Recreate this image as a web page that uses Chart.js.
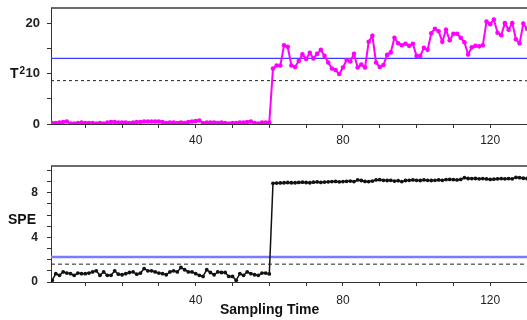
<!DOCTYPE html>
<html>
<head>
<meta charset="utf-8">
<script src="https://cdn.jsdelivr.net/npm/chart.js@4.4.1/dist/chart.umd.min.js"></script>
<style>
  html, body { margin: 0; padding: 0; background: #fff; }
  body { width: 527px; height: 320px; position: relative; overflow: hidden; font-family: "Liberation Sans", Arial, sans-serif; }
  canvas { position: absolute; left: 0; }
  .lbl { position: absolute; font-weight: bold; font-size: 14px; line-height: 14px; color: #111; white-space: nowrap; }
  .lbl sup { font-size: 10px; position: relative; top: -2px; vertical-align: top; margin-left: 1px; }
</style>
</head>
<body>
<canvas id="top" width="527" height="150" style="top:0"></canvas>
<canvas id="bot" width="527" height="170" style="top:150px"></canvas>
<div class="lbl" style="left:10px; top:66px;">T<sup>2</sup></div>
<div class="lbl" style="left:8px; top:212px;">SPE</div>
<div class="lbl" style="left:220px; top:302px;">Sampling Time</div>
<script>
// ---- data ----
const sampleCount = 130;
const samples = Array.from({length: sampleCount}, (_, i) => i + 1);

const t2Values = [
  0.2, 0.2, 0.3, 0.4, 0.5, 0.1, 0.1, 0.2, 0.3, 0.2,
  0.2, 0.2, 0.1, 0.2, 0.1, 0.3, 0.4, 0.4, 0.3, 0.3,
  0.3, 0.2, 0.3, 0.4, 0.4, 0.5, 0.5, 0.5, 0.5, 0.5,
  0.4, 0.2, 0.3, 0.3, 0.2, 0.3, 0.2, 0.4, 0.5, 0.6,
  0.7, 0.2, 0.3, 0.3, 0.3, 0.2, 0.3, 0.2, 0.1, 0.2,
  0.2, 0.3, 0.3, 0.4, 0.5, 0.2, 0.1, 0.3, 0.3, 0.3,
  11.0, 11.6, 11.6, 15.6, 15.3, 11.6, 11.3, 12.5, 13.8, 12.9,
  14.1, 13.0, 13.9, 14.7, 13.5, 12.2, 11.0, 10.7, 9.9, 11.2,
  12.7, 12.4, 13.9, 11.2, 11.8, 11.2, 16.3, 17.5, 12.2, 11.3,
  11.7, 13.7, 14.2, 17.1, 16.0, 15.6, 15.9, 15.5, 15.9, 13.5,
  13.5, 15.1, 14.7, 18.0, 18.9, 18.4, 16.3, 18.7, 16.6, 17.9,
  17.9, 17.1, 16.2, 13.8, 15.2, 15.5, 15.4, 15.6, 20.3, 19.8,
  20.7, 18.1, 17.6, 20.0, 18.7, 20.0, 16.8, 16.0, 19.9, 18.9
];

const speValues = [
  0.15, 0.75, 0.6, 0.9, 0.8, 0.75, 0.6, 0.8, 0.75, 0.75,
  0.8, 0.9, 1.0, 0.6, 0.9, 0.6, 0.6, 1.0, 0.7, 0.65,
  0.75, 0.85, 0.9, 0.7, 0.8, 1.2, 1.0, 1.0, 0.9, 0.8,
  0.75, 0.65, 0.9, 1.0, 0.9, 1.3, 1.1, 0.9, 0.9, 0.75,
  0.6, 0.5, 1.1, 0.85, 0.65, 0.9, 0.85, 0.85, 0.5, 0.5,
  0.15, 0.75, 0.6, 0.9, 0.75, 0.65, 0.6, 0.8, 0.8, 0.72,
  8.85, 8.87, 8.88, 8.9, 8.92, 8.9, 8.9, 8.93, 8.95, 8.92,
  8.9, 8.95, 8.97, 8.93, 8.96, 8.98, 9.0, 9.02, 8.98, 9.0,
  9.03, 9.05, 9.0, 9.15, 9.1, 9.02, 9.0, 9.05, 9.15, 9.17,
  9.12, 9.1, 9.12, 9.05, 9.08, 9.0, 9.1, 9.12, 9.15, 9.12,
  9.1, 9.15, 9.12, 9.1, 9.12, 9.15, 9.12, 9.18, 9.2, 9.18,
  9.15, 9.2, 9.35, 9.28, 9.27, 9.28, 9.25, 9.27, 9.24, 9.2,
  9.22, 9.25, 9.27, 9.25, 9.27, 9.25, 9.38, 9.35, 9.3, 9.28
];

const t2Limit99 = 13.0;
const t2Limit95 = 8.6;
const speLimit99 = 2.25;
const speLimit95 = 1.6;

const xRange = [0.7, 130];
const xTickValues = [10, 20, 30, 40, 50, 60, 70, 80, 90, 100, 110, 120, 130];
const xTickLabels = [40, 80, 120];
const t2Range = [0, 23];
const t2TickValues = [0, 5, 10, 15, 20];
const t2TickLabels = [0, 10, 20];
const speRange = [0, 10.4];
const speTickValues = [0, 1, 2, 3, 4, 5, 6, 7, 8, 9, 10];
const speTickLabels = [0, 4, 8];

// ---- helpers ----
const FONT = '"Liberation Sans", Arial, sans-serif';
const pts = (vals) => vals.map((v, i) => ({x: samples[i], y: v}));
const hline = (v) => [{x: xRange[0], y: v}, {x: xRange[1], y: v}];

const topBorder = {
  id: 'topBorder',
  afterDraw(chart) {
    const {ctx, chartArea: a} = chart;
    ctx.save();
    ctx.strokeStyle = '#3a3a3a';
    ctx.lineWidth = 1.5;
    ctx.beginPath();
    ctx.moveTo(a.left, a.top);
    ctx.lineTo(a.right + 2, a.top);
    ctx.stroke();
    ctx.restore();
  }
};

const noPad = (s) => { s.paddingTop = 0; s.paddingBottom = 0; s.paddingLeft = 0; s.paddingRight = 0; };

function makeChart(id, opts) {
  return new Chart(document.getElementById(id), {
    type: 'line',
    data: {
      datasets: [
        { data: hline(opts.lim95), borderColor: '#222', borderWidth: 1, borderDash: opts.dash, pointRadius: 0, order: 3 },
        { data: hline(opts.lim99), borderColor: opts.limColor, borderWidth: opts.limWidth, pointRadius: 0, order: 2 },
        { data: pts(opts.values), borderColor: opts.color, backgroundColor: opts.color, borderWidth: opts.lineWidth,
          pointRadius: opts.pointRadius, pointBorderWidth: 0, pointBackgroundColor: opts.color, order: 1, tension: 0 }
      ]
    },
    options: {
      responsive: false,
      animation: false,
      devicePixelRatio: 1,
      layout: { autoPadding: false, padding: { top: opts.padTop, left: 0, right: 0, bottom: 0 } },
      plugins: { legend: { display: false }, tooltip: { enabled: false } },
      scales: {
        x: {
          type: 'linear', min: xRange[0], max: xRange[1],
          afterBuildTicks: (s) => { s.ticks = xTickValues.map(v => ({value: v})); },
          afterFit: (s) => { s.height = opts.xAxisHeight; noPad(s); },
          ticks: {
            autoSkip: false, maxRotation: 0, padding: opts.xPad,
            color: '#222', font: { family: FONT, size: 12 },
            callback: (v) => xTickLabels.includes(v) ? String(v) : ''
          },
          grid: { drawOnChartArea: false, drawTicks: true, tickLength: 4, color: '#333', tickWidth: 1 },
          border: { display: true, color: '#333', width: 1 }
        },
        y: {
          type: 'linear', min: opts.yRange[0], max: opts.yRange[1],
          afterBuildTicks: (s) => { s.ticks = opts.yTicks.map(v => ({value: v})); },
          afterFit: (s) => { s.width = 51; noPad(s); },
          ticks: {
            autoSkip: false, padding: opts.yPad,
            color: '#222', font: { family: FONT, size: opts.yFont, weight: 'bold' },
            callback: (v) => opts.yLabels.includes(v) ? String(v) : ''
          },
          grid: { drawOnChartArea: false, drawTicks: true, tickLength: 4, color: '#333', tickWidth: 1 },
          border: { display: true, color: '#333', width: 1 }
        }
      }
    },
    plugins: [topBorder]
  });
}

makeChart('top', {
  values: t2Values, color: '#ff00ff', lineWidth: 2, pointRadius: 2.3,
  lim99: t2Limit99, lim95: t2Limit95, limColor: '#3c3cff', limWidth: 1.2, dash: [3, 3],
  yRange: t2Range, yTicks: t2TickValues, yLabels: t2TickLabels, yFont: 13, yPad: 7,
  padTop: 8, xAxisHeight: 26, xPad: 5
});

makeChart('bot', {
  values: speValues, color: '#111', lineWidth: 1.5, pointRadius: 1.9,
  lim99: speLimit99, lim95: speLimit95, limColor: '#7b7bff', limWidth: 2.5, dash: [4, 3],
  yRange: speRange, yTicks: speTickValues, yLabels: speTickLabels, yFont: 12, yPad: 9,
  padTop: 16, xAxisHeight: 38, xPad: 7
});
</script>
</body>
</html>
